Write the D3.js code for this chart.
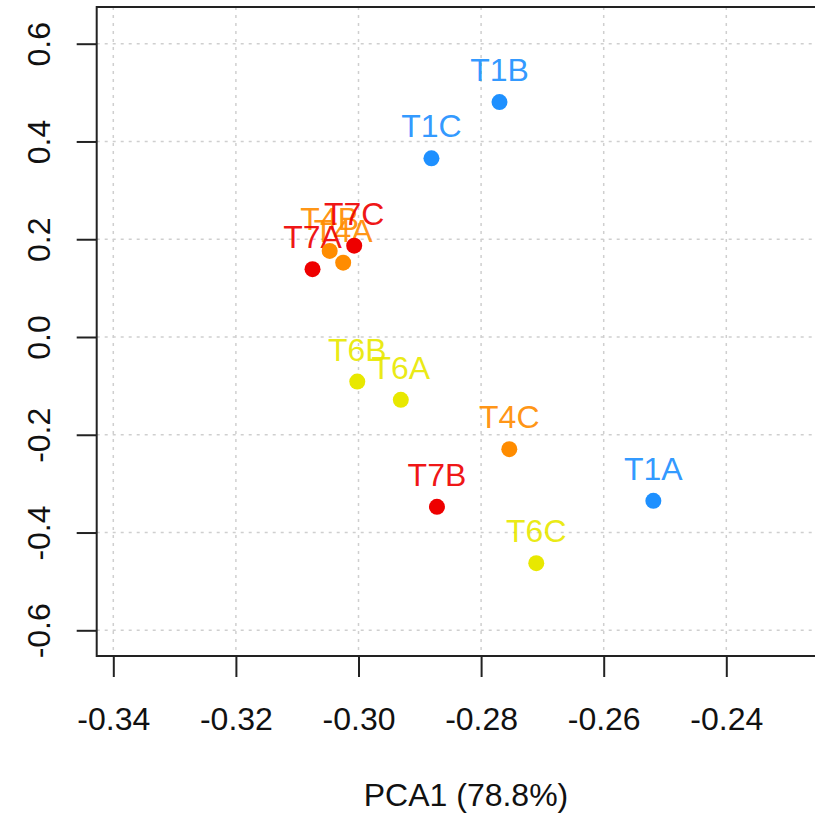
<!DOCTYPE html>
<html>
<head>
<meta charset="utf-8">
<script src="https://cdn.jsdelivr.net/npm/d3@7"></script>
<style>
  html, body { margin: 0; padding: 0; background: #fff; }
  svg { display: block; }
  text { font-family: "Liberation Sans", Arial, Helvetica, sans-serif; }
</style>
</head>
<body>
<svg id="chart" width="815" height="818"></svg>
<script>
// ---- data ----
const sampleLabels = ["T1A", "T1B", "T1C", "T4A", "T4B", "T4C", "T6A", "T6B", "T6C", "T7A", "T7B", "T7C"];
const pca1 = [-0.2519, -0.2770, -0.2881, -0.3025, -0.3047, -0.2754, -0.2931, -0.3002, -0.2710, -0.3075, -0.2872, -0.3007];
const pca2 = [-0.3352, 0.4805, 0.3656, 0.1521, 0.1761, -0.2294, -0.1286, -0.0912, -0.4626, 0.1387, -0.3474, 0.1869];
const groups = ["T1", "T1", "T1", "T4", "T4", "T4", "T6", "T6", "T6", "T7", "T7", "T7"];
const groupNames = ["T1", "T4", "T6", "T7"];
const groupColors = ["#1E90FF", "#FF8C00", "#E8E800", "#EE0000"];
const xTicks = [-0.34, -0.32, -0.30, -0.28, -0.26, -0.24, -0.22];
const yTicks = [-0.6, -0.4, -0.2, 0.0, 0.2, 0.4, 0.6];
const xTitle = "PCA1 (78.8%)";

// ---- layout ----
const svg = d3.select("#chart");
const box = { left: 96.7, top: 7, right: 840, bottom: 656 };
const x = d3.scaleLinear().domain([-0.34, -0.24]).range([113.3, 726.3]);
const y = d3.scaleLinear().domain([0.6, -0.6]).range([43.7, 630.3]);
const color = d3.scaleOrdinal().domain(groupNames).range(groupColors);
const fs = 32;
const hy = f => (d => f(d).replace("\u2212", "-"));

// grid
const grid = svg.append("g");
grid.selectAll("line.vx").data(xTicks).enter().append("line")
  .attr("x1", d => x(d)).attr("x2", d => x(d))
  .attr("y1", box.top).attr("y2", box.bottom)
  .attr("stroke", "#cfcfcf").attr("stroke-width", 1.5).attr("stroke-dasharray", "3,5");
grid.selectAll("line.hy").data(yTicks).enter().append("line")
  .attr("y1", d => y(d)).attr("y2", d => y(d))
  .attr("x1", box.left).attr("x2", box.right)
  .attr("stroke", "#cfcfcf").attr("stroke-width", 1.5).attr("stroke-dasharray", "3,5");

// axes (R style: ticks outside, labels below / rotated)
const xAxis = d3.axisBottom(x).tickValues(xTicks.slice(0, 6)).tickSize(21).tickPadding(10)
  .tickFormat(hy(d3.format(".2f")));
const gx = svg.append("g").attr("transform", `translate(0,${box.bottom})`).call(xAxis);
gx.select(".domain").remove();
gx.selectAll(".tick line").attr("stroke", "#222").attr("stroke-width", 2);
gx.selectAll(".tick text").attr("font-size", fs).attr("fill", "#111")
  .attr("dy", null).attr("y", 74).attr("font-family", '"Liberation Sans", Arial, sans-serif');

const yAxis = d3.axisLeft(y).tickValues(yTicks).tickSize(20).tickFormat(hy(d3.format(".1f")));
const gy = svg.append("g").attr("transform", `translate(${box.left},0)`).call(yAxis);
gy.select(".domain").remove();
gy.selectAll(".tick line").attr("stroke", "#222").attr("stroke-width", 2);
gy.selectAll(".tick text").attr("font-size", fs).attr("fill", "#111")
  .attr("x", null).attr("dy", null).attr("y", null)
  .attr("text-anchor", "middle")
  .attr("transform", "translate(-47,0) rotate(-90)")
  .attr("font-family", '"Liberation Sans", Arial, sans-serif');

// plot box
svg.append("rect")
  .attr("x", box.left).attr("y", box.top)
  .attr("width", box.right - box.left).attr("height", box.bottom - box.top)
  .attr("fill", "none").attr("stroke", "#222").attr("stroke-width", 2);

// data
const rows = sampleLabels.map((l, i) => ({ label: l, px: pca1[i], py: pca2[i], g: groups[i] }));

// labels
svg.append("g").selectAll("text").data(rows).enter().append("text")
  .attr("x", d => x(d.px)).attr("y", d => y(d.py) - 21)
  .attr("text-anchor", "middle").attr("font-size", fs)
  .attr("fill", d => color(d.g)).attr("fill-opacity", 0.92)
  .text(d => d.label);

// points
svg.append("g").selectAll("circle").data(rows).enter().append("circle")
  .attr("cx", d => x(d.px)).attr("cy", d => y(d.py)).attr("r", 8)
  .attr("fill", d => color(d.g));

// x title
svg.append("text").attr("x", 466).attr("y", 806).attr("text-anchor", "middle")
  .attr("font-size", fs).attr("fill", "#111").text(xTitle);
</script>
</body>
</html>
